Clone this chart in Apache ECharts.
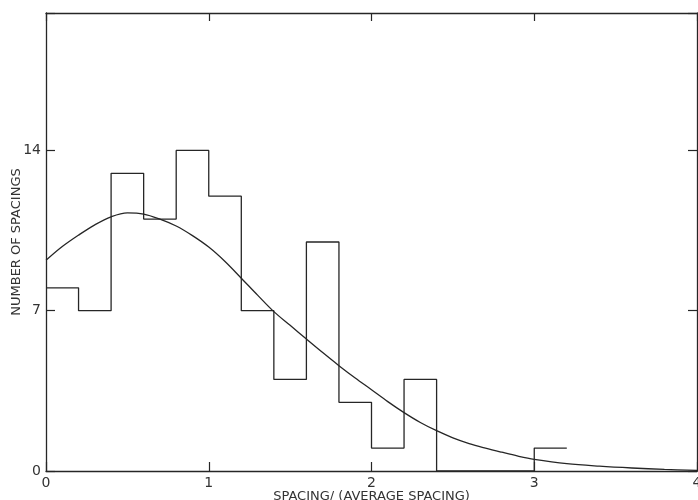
<!DOCTYPE html>
<html>
<head>
<meta charset="utf-8">
<script src="https://cdn.jsdelivr.net/npm/echarts@6/dist/echarts.min.js"></script>
<style>
  html, body { margin: 0; padding: 0; background: #fff; }
  #chart { width: 698px; height: 500px; }
</style>
</head>
<body>
<div id="chart"></div>
<script>
// Histogram of level spacings, bins of width 0.2 starting at 0
const binWidth = 0.2;
const binCounts = [8, 7, 13, 11, 14, 12, 7, 4, 10, 3, 1, 4, 0, 0, 0, 1];

// Fitted distribution curve (spacing, number of spacings)
const curveX = [0, 0.1, 0.2, 0.3, 0.4, 0.5, 0.6, 0.7, 0.8, 0.9, 1.0, 1.1, 1.2, 1.3, 1.4, 1.5, 1.6, 1.7, 1.8, 1.9,
                2.0, 2.1, 2.2, 2.3, 2.4, 2.5, 2.6, 2.7, 2.8, 2.9, 3.0, 3.2, 3.4, 3.6, 3.8, 4.0];
const curveY = [9.2, 9.8, 10.3, 10.75, 11.1, 11.27, 11.22, 11.0, 10.7, 10.28, 9.78, 9.15, 8.42, 7.68, 6.96, 6.36, 5.76, 5.17, 4.6, 4.06,
                3.55, 3.03, 2.55, 2.12, 1.76, 1.45, 1.2, 1.0, 0.82, 0.65, 0.51, 0.32, 0.21, 0.13, 0.07, 0.03];

// Axis ticks
const xTicks = [0, 1, 2, 3, 4];
const yTicks = [0, 7, 14];

// Step outline of the histogram
const histPath = [];
binCounts.forEach((c, i) => {
  const lo = +(i * binWidth).toFixed(2);
  const hi = +((i + 1) * binWidth).toFixed(2);
  histPath.push([lo, c], [hi, c]);
});
const curvePath = curveX.map((x, i) => [x, curveY[i]]);

const ink = '#262626';
const font = 'DejaVu Sans';

const chart = echarts.init(document.getElementById('chart'), null, { renderer: 'canvas' });
chart.setOption({
  animation: false,
  backgroundColor: '#ffffff',
  grid: { left: 46, right: 1, top: 13, bottom: 29, show: false, containLabel: false, outerBoundsMode: 'none' },
  xAxis: [
    {
      type: 'value', min: 0, max: 4, interval: 1, position: 'bottom',
      name: 'SPACING/ (AVERAGE SPACING)', nameLocation: 'middle', nameGap: 19, nameMoveOverlap: false,
      nameTextStyle: { color: '#333', fontFamily: font, fontSize: 13, verticalAlign: 'top' },
      axisLine: { show: true, onZero: false, lineStyle: { color: ink, width: 1.3 } },
      axisTick: { show: true, inside: true, length: 9, lineStyle: { color: ink, width: 1.2 } },
      axisLabel: {
        show: true, margin: 5, color: '#333', fontFamily: font, fontSize: 14,
        showMaxLabel: true, showMinLabel: true, hideOverlap: false,
        formatter: v => (xTicks.includes(v) ? String(v) : '')
      },
      splitLine: { show: false }
    },
    {
      type: 'value', min: 0, max: 4, interval: 1, position: 'top',
      axisLine: { show: true, onZero: false, lineStyle: { color: ink, width: 1.3 } },
      axisTick: { show: true, inside: true, length: 8, lineStyle: { color: ink, width: 1.2 } },
      axisLabel: { show: false },
      splitLine: { show: false }
    }
  ],
  yAxis: [
    {
      type: 'value', min: 0, max: 20, interval: 7, position: 'left',
      name: 'NUMBER OF SPACINGS', nameLocation: 'middle', nameGap: 23, nameRotate: 90, nameMoveOverlap: false,
      nameTextStyle: { color: '#333', fontFamily: font, fontSize: 13 },
      axisLine: { show: true, onZero: false, lineStyle: { color: ink, width: 1.3 } },
      axisTick: { show: true, inside: true, length: 9, lineStyle: { color: ink, width: 1.2 } },
      axisLabel: {
        show: true, margin: 5, color: '#333', fontFamily: font, fontSize: 14,
        formatter: v => (yTicks.includes(v) ? String(v) : '')
      },
      splitLine: { show: false }
    },
    {
      type: 'value', min: 0, max: 20, interval: 7, position: 'right',
      axisLine: { show: true, onZero: false, lineStyle: { color: ink, width: 1.3 } },
      axisTick: { show: true, inside: true, length: 9, lineStyle: { color: ink, width: 1.2 } },
      axisLabel: { show: false },
      splitLine: { show: false }
    }
  ],
  series: [
    {
      name: 'histogram', type: 'line', data: histPath,
      showSymbol: false, symbol: 'none', smooth: false,
      lineStyle: { color: ink, width: 1.3 }, z: 3
    },
    {
      name: 'fit', type: 'line', data: curvePath,
      showSymbol: false, symbol: 'none', smooth: 0.35,
      lineStyle: { color: ink, width: 1.3 }, z: 4
    }
  ]
});
</script>
</body>
</html>
